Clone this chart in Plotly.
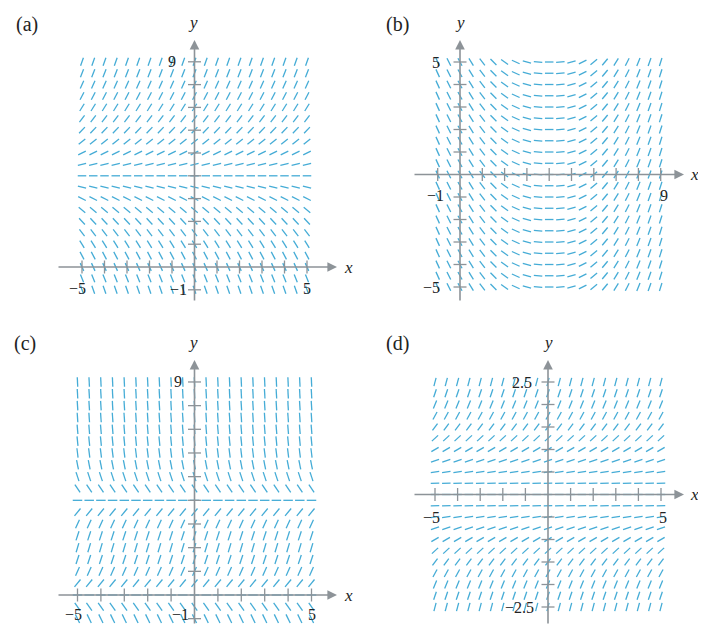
import math
import plotly.graph_objects as go

# The page body has an 8 px default margin, so the figure is drawn 8 px in from
# the window edge; all positions below are given in window pixels and shifted.
OFF = 8
W, H = 706 - 2 * OFF, 625 - OFF

# ---------------- data ----------------
# (a) slope depends on y only; rows y = 9 ... -1, columns x = -5 ... 5
a_cols = [-5, -4.5, -4, -3.5, -3, -2.5, -2, -1.5, -1, -0.5, 0, 0.5, 1, 1.5, 2, 2.5, 3, 3.5, 4, 4.5, 5]
a_rows = [9, 8.5, 8, 7.5, 7, 6.5, 6, 5.5, 5, 4.5, 4, 3.5, 3, 2.5, 2, 1.5, 1, 0.5, 0, -0.5, -1]
a_slopes = [2.8, 2.5, 2.2, 1.9, 1.6, 1.3, 1.05, 0.8, 0.5, 0.25, 0.0,
            -0.25, -0.5, -0.8, -1.05, -1.3, -1.6, -1.9, -2.2, -2.5, -2.8]

# (b) slope depends on x only; columns x = -1 ... 9, rows y = 5 ... -5
b_cols = [-1, -0.5, 0, 0.5, 1, 1.5, 2, 2.5, 3, 3.5, 4, 4.5, 5, 5.5, 6, 6.5, 7, 7.5, 8, 8.5, 9]
b_rows = [5, 4.5, 4, 3.5, 3, 2.5, 2, 1.5, 1, 0.5, 0, -0.5, -1, -1.5, -2, -2.5, -3, -3.5, -4, -4.5, -5]
b_slopes = [-2.2, -2.0, -1.8, -1.6, -1.3, -1.0, -0.7, -0.45, -0.25, -0.1, 0.0,
            0.1, 0.25, 0.5, 0.8, 1.2, 1.6, 2.0, 2.4, 2.8, 3.2]

# (c) slope depends on y only; rows y = 9 ... -1
c_cols = a_cols
c_rows = [9, 8.5, 8, 7.5, 7, 6.5, 6, 5.5, 5, 4.5, 4, 3.5, 3, 2.5, 2, 1.5, 1, 0.5, 0, -0.5, -1]
c_slopes = [-20, -18, -16, -14, -12, -10, -8, -5, -3, -1.5, 0.0,
            1.2, 2.2, 3.0, 3.3, 3.0, 2.2, 1.2, 0.0, -1.4, -2.0]

# (d) slope depends on y only; rows y = 2.5 ... -2.5
d_cols = a_cols
d_rows = [2.5, 2.25, 2.0, 1.75, 1.5, 1.25, 1.0, 0.75, 0.5, 0.25, 0.0,
          -0.25, -0.5, -0.75, -1.0, -1.25, -1.5, -1.75, -2.0, -2.25, -2.5]
d_slopes = [1.9, 1.5, 1.2, 0.92, 0.68, 0.47, 0.3, 0.17, 0.075, 0.02, 0.0,
            0.02, 0.075, 0.17, 0.3, 0.47, 0.68, 0.92, 1.2, 1.5, 1.9]

# tick positions and tick labels
a_xticks = [-5, -4, -3, -2, -1, 1, 2, 3, 4, 5]
a_yticks = [-1, 1, 2, 3, 4, 5, 6, 7, 8, 9]
b_xticks = [-1, 1, 2, 3, 4, 5, 6, 7, 8, 9]
b_yticks = [-5, -4, -3, -2, -1, 1, 2, 3, 4, 5]
c_xticks = a_xticks
c_yticks = a_yticks
d_xticks = [-5, -4, -3, -2, -1, 1, 2, 3, 4, 5]
d_yticks = [-2.5, -2, -1.5, -1, -0.5, 0.5, 1, 1.5, 2, 2.5]

a_xlabels = {-5: "−5", 5: "5"}
a_ylabels = {9: "9", -1: "−1"}
b_xlabels = {-1: "−1", 9: "9"}
b_ylabels = {5: "5", -5: "−5"}
c_xlabels = {-5: "−5", 5: "5"}
c_ylabels = {9: "9", -1: "−1"}
d_xlabels = {-5: "−5", 5: "5"}
d_ylabels = {2.5: "2.5", -2.5: "−2.5"}

# ---------------- layout geometry (window pixels) ----------------
panels = {
    "a": dict(ax="x", ay="y", box=(45, 355, 10, 308), ox=194.5, sx=22.5, oy=267, sy=22.8,
              xaxis_px=(57, 337), yaxis_py=(302, 40), seg=8.5, title=(27, 25),
              ylab=(193, 22), xlab=(342, 267)),
    "b": dict(ax="x2", ay="y2", box=(400, 698, 10, 308), ox=460, sx=22.3, oy=174.5, sy=22.5,
              xaxis_px=(413, 684), yaxis_py=(302, 40), seg=8.5, title=(397, 25),
              ylab=(460, 22), xlab=(688, 174.5)),
    "c": dict(ax="x3", ay="y3", box=(45, 355, 330, 625), ox=194.5, sx=23.4, oy=595, sy=23.67,
              xaxis_px=(57, 337), yaxis_py=(625, 360), seg=9.5, title=(25, 343),
              ylab=(193, 342), xlab=(342, 595)),
    "d": dict(ax="x4", ay="y4", box=(400, 698, 330, 625), ox=548, sx=22.6, oy=494.5, sy=45,
              xaxis_px=(413, 684), yaxis_py=(625, 360), seg=8.5, title=(397, 343),
              ylab=(548, 342), xlab=(688, 494.5)),
}

SEG_COLOR = "#45acd6"
AXIS_COLOR = "#8d9398"
TEXT_COLOR = "#222222"
SERIF = "Liberation Serif, Times New Roman, serif"

fig = go.Figure()
annotations = []
layout_axes = {}


def px_to_x(p, px):
    return (px - p["ox"]) / p["sx"]


def py_to_y(p, py):
    return (p["oy"] - py) / p["sy"]


def slope_segments(p, cols, rows, slope_of):
    xs, ys = [], []
    L = p["seg"] / 2.0
    for i, yv in enumerate(rows):
        for j, xv in enumerate(cols):
            m = slope_of(i, j)
            th = math.atan(m * p["sy"] / p["sx"])
            dx = L * math.cos(th) / p["sx"]
            dy = L * math.sin(th) / p["sy"]
            xs += [xv - dx, xv + dx, None]
            ys += [yv - dy, yv + dy, None]
    return xs, ys


def add_panel(key, cols, rows, slope_of, xticks, yticks, xlabels, ylabels, lab_cfg):
    p = panels[key]
    idx = {"a": "", "b": "2", "c": "3", "d": "4"}[key]
    px0, px1, py0, py1 = p["box"]
    layout_axes["xaxis" + idx] = dict(
        domain=[(px0 - OFF) / W, (px1 - OFF) / W],
        range=[px_to_x(p, px0), px_to_x(p, px1)],
        visible=False, fixedrange=True, anchor=p["ay"])
    layout_axes["yaxis" + idx] = dict(
        domain=[1 - (py1 - OFF) / H, 1 - (py0 - OFF) / H],
        range=[py_to_y(p, py1), py_to_y(p, py0)],
        visible=False, fixedrange=True, anchor=p["ax"])

    # slope field
    xs, ys = slope_segments(p, cols, rows, slope_of)
    fig.add_trace(go.Scatter(x=xs, y=ys, mode="lines", xaxis=p["ax"], yaxis=p["ay"],
                             line=dict(color=SEG_COLOR, width=1.3),
                             hoverinfo="skip", showlegend=False))

    # axes with arrows
    axref, ayref = p["ax"], p["ay"]
    annotations.append(dict(
        x=px_to_x(p, p["xaxis_px"][1]), y=0, ax=px_to_x(p, p["xaxis_px"][0]), ay=0,
        xref=axref, yref=ayref, axref=axref, ayref=ayref, text="", showarrow=True,
        arrowhead=2, arrowsize=1.2, arrowwidth=1.6, arrowcolor=AXIS_COLOR))
    annotations.append(dict(
        x=0, y=py_to_y(p, p["yaxis_py"][1]), ax=0, ay=py_to_y(p, p["yaxis_py"][0]),
        xref=axref, yref=ayref, axref=axref, ayref=ayref, text="", showarrow=True,
        arrowhead=2, arrowsize=1.2, arrowwidth=1.6, arrowcolor=AXIS_COLOR))

    # ticks
    half = 6.5
    tx, ty = [], []
    for t in xticks:
        tx += [t, t, None]
        ty += [-half / p["sy"], half / p["sy"], None]
    for t in yticks:
        tx += [-half / p["sx"], half / p["sx"], None]
        ty += [t, t, None]
    fig.add_trace(go.Scatter(x=tx, y=ty, mode="lines", xaxis=p["ax"], yaxis=p["ay"],
                             line=dict(color=AXIS_COLOR, width=1.3),
                             hoverinfo="skip", showlegend=False))

    # tick labels
    for v, s in xlabels.items():
        annotations.append(dict(x=v, y=0, xref=axref, yref=ayref, text=s, showarrow=False,
                                xanchor="center", yanchor="middle",
                                xshift=lab_cfg["xshift"].get(v, 0), yshift=lab_cfg["xy"],
                                font=dict(family=SERIF, size=16, color=TEXT_COLOR)))
    for v, s in ylabels.items():
        annotations.append(dict(x=0, y=v, xref=axref, yref=ayref, text=s, showarrow=False,
                                xanchor="right", yanchor="middle",
                                xshift=lab_cfg["yshift"].get(v, -14),
                                yshift=lab_cfg.get("yy", {}).get(v, 0),
                                font=dict(family=SERIF, size=16, color=TEXT_COLOR)))

    # axis names and panel title (window pixel positions)
    def paper(pt):
        return (pt[0] - OFF) / W, 1 - (pt[1] - OFF) / H

    yx, yy = paper(p["ylab"])
    annotations.append(dict(x=yx, y=yy, xref="paper", yref="paper",
                            text="<i>y</i>", showarrow=False, xanchor="center", yanchor="middle",
                            font=dict(family=SERIF, size=17, color=TEXT_COLOR)))
    xx, xy = paper(p["xlab"])
    annotations.append(dict(x=xx, y=xy, xref="paper", yref="paper",
                            text="<i>x</i>", showarrow=False, xanchor="left", yanchor="middle",
                            font=dict(family=SERIF, size=17, color=TEXT_COLOR)))
    tx_, ty_ = paper(p["title"])
    annotations.append(dict(x=tx_, y=ty_, xref="paper", yref="paper",
                            text="(" + key + ")", showarrow=False, xanchor="center", yanchor="middle",
                            font=dict(family=SERIF, size=20, color=TEXT_COLOR)))


add_panel("a", a_cols, a_rows, lambda i, j: a_slopes[i], a_xticks, a_yticks, a_xlabels, a_ylabels,
          dict(xshift={-5: -5, 5: 0}, xy=-21, yshift={9: -17, -1: -6}))
add_panel("b", b_cols, b_rows, lambda i, j: b_slopes[j], b_xticks, b_yticks, b_xlabels, b_ylabels,
          dict(xshift={-1: -2, 9: 3}, xy=-21, yshift={5: -18, -5: -18}))
add_panel("c", c_cols, c_rows, lambda i, j: c_slopes[i], c_xticks, c_yticks, c_xlabels, c_ylabels,
          dict(xshift={-5: -4, 5: 0}, xy=-19, yshift={9: -11, -1: -4}, yy={-1: 4}))
add_panel("d", d_cols, d_rows, lambda i, j: d_slopes[i], d_xticks, d_yticks, d_xlabels, d_ylabels,
          dict(xshift={-5: -4, 5: 2}, xy=-23, yshift={2.5: -14, -2.5: -12}))

fig.update_layout(
    width=W, height=H, autosize=False,
    margin=dict(l=0, r=0, t=0, b=0),
    paper_bgcolor="white", plot_bgcolor="rgba(0,0,0,0)",
    showlegend=False,
    annotations=annotations,
    **layout_axes,
)

fig.write_html("out.html")
